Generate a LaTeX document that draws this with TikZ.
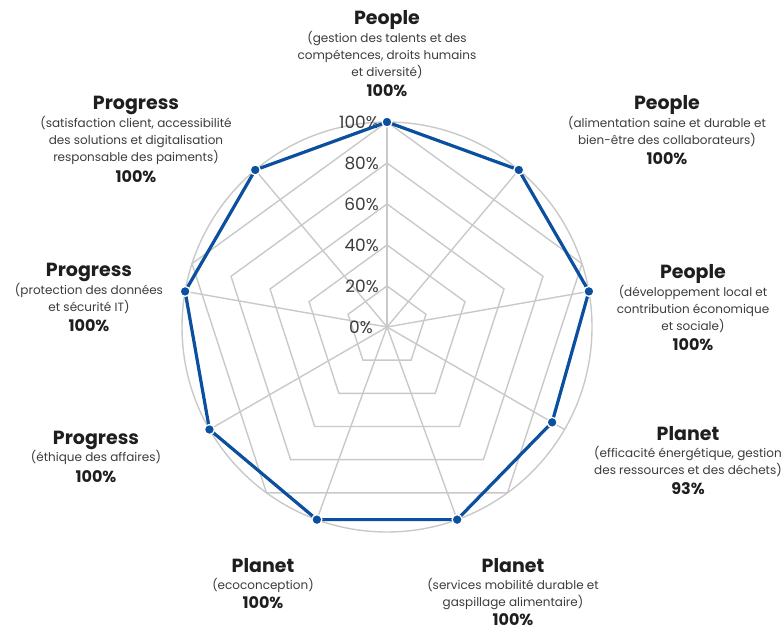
\documentclass[tikz,border=0pt]{standalone}
\usepackage{fontspec}
\setmainfont{Poppins}
\usetikzlibrary{positioning}
\definecolor{radarblue}{HTML}{0B4F9F}
\definecolor{gridgray}{HTML}{C9C9C9}
\definecolor{textdark}{HTML}{1E1E1E}
\definecolor{textsub}{HTML}{3C3C3C}
\tikzset{
	radargrid/.style={draw=gridgray, line width=1.4pt, line join=miter},
	radarline/.style={draw=radarblue, line width=3.2pt, line join=round},
	radardot/.style={circle, fill=radarblue, draw=white, line width=1.3pt, inner sep=0pt, minimum size=10pt},
	ttl/.style={anchor=base, inner sep=0pt, text depth=4pt, text=textdark, font=\fontsize{19}{19}\selectfont\bfseries},
	sub/.style={inner sep=0pt, text=textsub, align=center, font=\fontsize{12}{17}\selectfont},
	val/.style={inner sep=0pt, text=textdark, font=\fontsize{16}{16}\selectfont\bfseries},
	scalelbl/.style={inner sep=0pt, anchor=east, text=textsub, font=\fontsize{17}{17}\selectfont}
}

\begin{document}
\begin{tikzpicture}[x=1pt, y=1pt]
	\useasboundingbox (0,0) rectangle (783,629);
	
	\begin{scope}[shift={(387,302)}]
		% grid
		\draw[radargrid] (0,0) circle (205);
		\foreach \lev in {41,82,123,164,205}
			\draw[radargrid] (90:\lev) -- (18:\lev) -- (-54:\lev) -- (-126:\lev) -- (162:\lev) -- cycle;
		\foreach \a in {90,50,10,-30,-70,-110,-150,170,130}
			\draw[radargrid] (0,0) -- (\a:205);
		
		% scale
		\node[scalelbl] (s0) at (-14,0) {0\%};
		\foreach \k in {1,...,5}
			\node[scalelbl] (s\k) at (-8,41*\k) {\the\numexpr20*\k\relax\%};
		
		% values
		\foreach \a/\v [count=\i] in {90/100,50/100,10/100,-30/93,-70/100,-110/100,-150/100,170/100,130/100}
			\coordinate (p\i) at (\a:2.05*\v);
		\draw[radarline] (p1) -- (p2) -- (p3) -- (p4) -- (p5) -- (p6) -- (p7) -- (p8) -- (p9) -- cycle;
		\foreach \i in {1,...,9}
			\node[radardot] (d\i) at (p\i) {};
	\end{scope}
	
	% top
	\node[ttl] (t1) at (387,604) {People};
	\node[sub, below=2pt of t1] (u1) {(gestion des talents et des\\compétences, droits humains\\et diversité)};
	\node[val, below=5pt of u1] (v1) {100\%};
	
	% top right
	\node[ttl] (t2) at (667,519) {People};
	\node[sub, below=2pt of t2] (u2) {(alimentation saine et durable et\\bien-être des collaborateurs)};
	\node[val, below=5pt of u2] (v2) {100\%};
	
	% right
	\node[ttl] (t3) at (693,350) {People};
	\node[sub, below=2pt of t3] (u3) {(développement local et\\contribution économique\\et sociale)};
	\node[val, below=5pt of u3] (v3) {100\%};
	
	% bottom right
	\node[ttl] (t4) at (688,189) {Planet};
	\node[sub, below=2pt of t4] (u4) {(efficacité énergétique, gestion\\des ressources et des déchets)};
	\node[val, below=5pt of u4] (v4) {93\%};
	
	% bottom
	\node[ttl] (t5) at (513,57) {Planet};
	\node[sub, below=2pt of t5] (u5) {(services mobilité durable et\\gaspillage alimentaire)};
	\node[val, below=3pt of u5] (v5) {100\%};
	
	\node[ttl] (t6) at (263,57) {Planet};
	\node[sub, below=2pt of t6] (u6) {(ecoconception)};
	\node[val, below=3pt of u6] (v6) {100\%};
	
	% left
	\node[ttl] (t7) at (96,185) {Progress};
	\node[sub, below=2pt of t7] (u7) {(éthique des affaires)};
	\node[val, below=5pt of u7] (v7) {100\%};
	
	\node[ttl] (t8) at (89,352) {Progress};
	\node[sub, below=2pt of t8] (u8) {(protection des données\\et sécurité IT)};
	\node[val, below=5pt of u8] (v8) {100\%};
	
	\node[ttl] (t9) at (136,519) {Progress};
	\node[sub, below=2pt of t9] (u9) {(satisfaction client, accessibilité\\des solutions et digitalisation\\responsable des paiments)};
	\node[val, below=5pt of u9] (v9) {100\%};
\end{tikzpicture}
\end{document}
